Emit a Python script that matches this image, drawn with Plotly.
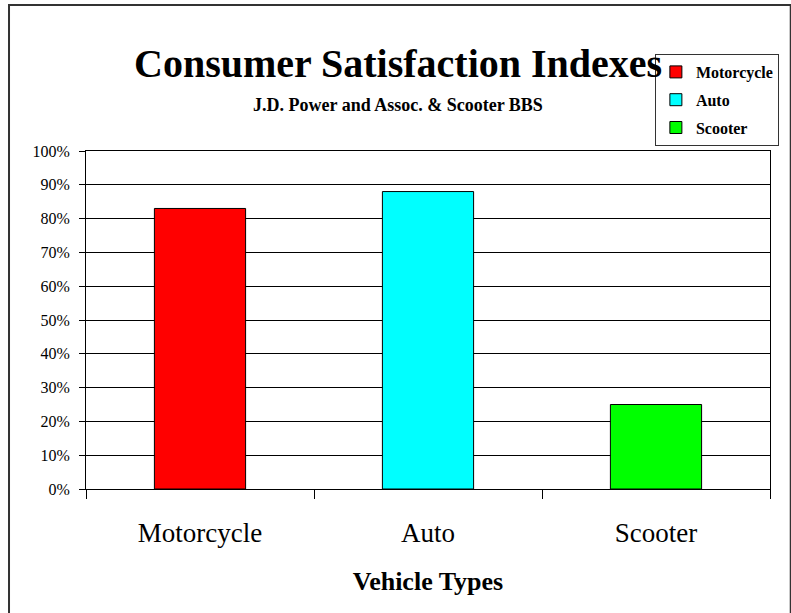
import plotly.graph_objects as go

categories = ["Motorcycle", "Auto", "Scooter"]
values = [0.83, 0.88, 0.25]
colors = ["#FF0000", "#00FFFF", "#00FF00"]
y_ticks = [i / 10 for i in range(11)]
y_tick_labels = [f"{i * 10}%" for i in range(11)]

W, H = 791, 613
L, R, T, B = 86, 12, 151, 124
PW, PH = W - L - R, H - T - B

def px(x):
    return (x - L) / PW

def py(y):
    return (H - B - y) / PH

fig = go.Figure()
for cat, val, col in zip(categories, values, colors):
    fig.add_trace(go.Bar(
        x=[cat], y=[val], name=cat, width=0.4,
        marker=dict(color=col, line=dict(color="#000000", width=1)),
        legendgroup=cat,
    ))

serif = "Liberation Serif, Times New Roman, serif"

fig.update_layout(
    width=W, height=H,
    margin=dict(l=L, r=R, t=T, b=B),
    paper_bgcolor="white", plot_bgcolor="white",
    barmode="overlay",
    font=dict(family=serif, color="black"),
    showlegend=True,
    legend=dict(
        x=px(788), y=py(54), xanchor="right", yanchor="top",
        bgcolor="white", bordercolor="#333333", borderwidth=1,
        font=dict(family=serif, size=16, color="black", weight="bold"),
        tracegroupgap=4,
    ),
    xaxis=dict(
        categoryorder="array", categoryarray=categories,
        tickson="boundaries", ticks="outside", ticklen=9, tickcolor="black",
        showline=True, linecolor="black", linewidth=1, mirror=True,
        tickfont=dict(family=serif, size=27, color="black"),
        ticklabelstandoff=20,
        title=dict(text="<b>Vehicle Types</b>", font=dict(family=serif, size=26, color="black"), standoff=24),
        showgrid=False,
    ),
    yaxis=dict(
        range=[0, 1], tickvals=y_ticks, ticktext=y_tick_labels,
        ticks="outside", ticklen=6, tickcolor="black",
        showline=True, linecolor="black", linewidth=1, mirror=True,
        showgrid=True, gridcolor="black", gridwidth=1,
        tickfont=dict(family=serif, size=16, color="black"),
        ticklabelstandoff=6,
        zeroline=False,
    ),
    annotations=[
        dict(text="<b>Consumer Satisfaction Indexes</b>", x=px(402), y=py(63),
             xref="paper", yref="paper", xanchor="center", yanchor="middle",
             showarrow=False, font=dict(family=serif, size=40, color="black")),
        dict(text="<b>J.D. Power and Assoc. &amp; Scooter BBS</b>", x=px(402), y=py(105),
             xref="paper", yref="paper", xanchor="center", yanchor="middle",
             showarrow=False, font=dict(family=serif, size=18, color="black")),
    ],
    shapes=[
        dict(type="rect", xref="paper", yref="paper",
             x0=px(8), x1=px(800), y0=py(620), y1=py(5),
             line=dict(color="#333333", width=2), fillcolor="rgba(0,0,0,0)", layer="below"),
    ],
)

fig.write_html("out.html")
